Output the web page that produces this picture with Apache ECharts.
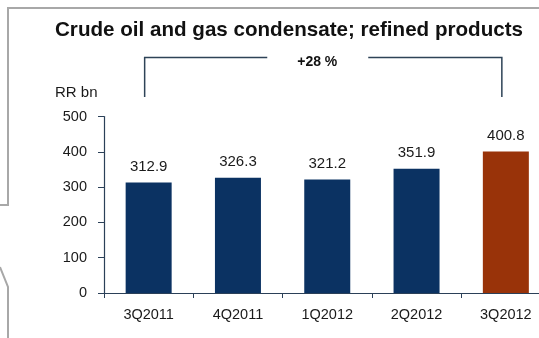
<!DOCTYPE html>
<html>
<head>
<meta charset="utf-8">
<style>
  html, body { margin: 0; padding: 0; background: #fff; }
  #chart { width: 539px; height: 338px; }
</style>
<script src="https://cdn.jsdelivr.net/npm/echarts@6/dist/echarts.min.js"></script>
</head>
<body>
<div id="chart"></div>
<script>
// Revenue by quarter, RR bn
const quarters = ['3Q2011', '4Q2011', '1Q2012', '2Q2012', '3Q2012'];
const revenue = [312.9, 326.3, 321.2, 351.9, 400.8];
const yTicks = [0, 100, 200, 300, 400, 500];

const NAVY = '#0B3262';
const RUST = '#993309';
const AXIS = '#2B4058';
const FONT = '"Liberation Sans", Arial, sans-serif';

const chart = echarts.init(document.getElementById('chart'), null, { renderer: 'canvas' });

chart.setOption({
  animation: false,
  backgroundColor: '#ffffff',
  textStyle: { fontFamily: FONT },
  title: {
    text: 'Crude oil and gas condensate; refined products',
    left: 55, top: 20, padding: 0,
    textStyle: { fontFamily: FONT, fontSize: 20.6, fontWeight: 'bold', color: '#111' }
  },
  // the plot runs slightly past the right edge of the page
  grid: { left: 104, width: 446.5, top: 116.5, bottom: 45, outerBoundsMode: 'none', containLabel: false },
  xAxis: {
    type: 'category',
    data: quarters,
    boundaryGap: true,
    axisLine: { lineStyle: { color: AXIS, width: 1.2 } },
    axisTick: { show: true, length: 5, lineStyle: { color: AXIS } },
    axisLabel: { margin: 14, fontSize: 14.5, color: '#1a1a1a', fontFamily: FONT }
  },
  yAxis: {
    type: 'value',
    min: yTicks[0], max: yTicks[yTicks.length - 1], interval: yTicks[1] - yTicks[0],
    splitLine: { show: false },
    axisLine: { show: true, lineStyle: { color: AXIS, width: 1.2 } },
    axisTick: { show: true, length: 6, lineStyle: { color: AXIS } },
    axisLabel: { margin: 17, fontSize: 14.5, color: '#1a1a1a', fontFamily: FONT }
  },
  series: [{
    type: 'bar',
    data: revenue,
    barWidth: 46,
    itemStyle: {
      color: p => (p.dataIndex === revenue.length - 1 ? RUST : NAVY)
    },
    label: {
      show: true, position: 'top', distance: 8,
      fontSize: 15, color: '#1a1a1a', fontFamily: FONT,
      formatter: p => p.value.toFixed(1)
    }
  }]
});

// Growth bracket from the first to the last quarter
const first = chart.convertToPixel({ xAxisIndex: 0 }, quarters[0]);
const last = chart.convertToPixel({ xAxisIndex: 0 }, quarters[quarters.length - 1]);
const growth = Math.round((revenue[revenue.length - 1] / revenue[0] - 1) * 100);
const bx0 = first - 4, bx1 = last - 4;
const bTop = 57.5, bBottom = 97;
const labelX = (bx0 + bx1) / 2 - 6;
const gapHalf = 50;

const frame = { stroke: '#A8A8A8', lineWidth: 2 };
const bracket = { stroke: '#2E4357', lineWidth: 1.5 };

chart.setOption({
  graphic: [
    // slide frame
    { type: 'polyline', shape: { points: [[0, 205], [8, 205], [8, 8], [539, 8]] }, style: Object.assign({ fill: null }, frame), silent: true },
    { type: 'polyline', shape: { points: [[0, 267], [8, 287], [8, 338]] }, style: Object.assign({ fill: null }, frame), silent: true },
    // unit caption
    { type: 'text', left: 55, top: 85, style: { text: 'RR bn', font: '15px ' + FONT, fill: '#1a1a1a' } },
    // bracket
    { type: 'polyline', shape: { points: [[bx0, bBottom], [bx0, bTop], [labelX - gapHalf, bTop]] }, style: Object.assign({ fill: null }, bracket), silent: true },
    { type: 'polyline', shape: { points: [[labelX + gapHalf + 1, bTop], [bx1, bTop], [bx1, bBottom]] }, style: Object.assign({ fill: null }, bracket), silent: true },
    { type: 'text', x: labelX, y: 62, style: { text: '+' + growth + ' %', font: 'bold 14px ' + FONT, fill: '#111', align: 'center', verticalAlign: 'middle' } }
  ]
});
</script>
</body>
</html>
